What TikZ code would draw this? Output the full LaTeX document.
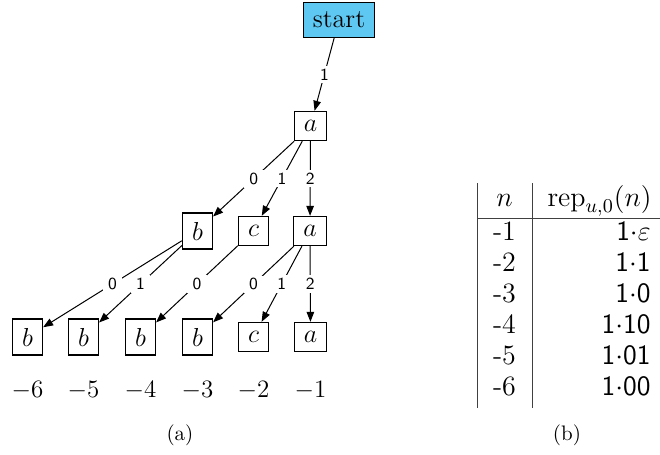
\RequirePackage{fix-cm}
\documentclass[tikz,border=0pt]{standalone}
\usetikzlibrary{arrows.meta}
\definecolor{startblue}{RGB}{95,200,242}
\begin{document}
\begin{tikzpicture}[x=0.5pt,y=-0.5pt,
  box/.style={draw, line width=0.6pt, inner xsep=4.8pt, inner ysep=4.5pt, font=\fontsize{13}{15}\selectfont},
  arr/.style={line width=0.5pt, -{Triangle[length=5pt,width=3.8pt]}},
  lbl/.style={fill=white, inner xsep=2.8pt, inner ysep=1.4pt, font=\sffamily\fontsize{8.5}{10}\selectfont},
  lev/.style={anchor=base, inner sep=0pt, font=\fontsize{12.5}{15}\selectfont},
  tabc/.style={anchor=base, inner sep=0pt, font=\fontsize{14}{17}\selectfont},
  tabr/.style={anchor=base east, inner sep=0pt, font=\fontsize{14}{17}\selectfont},
  tline/.style={line width=0.5pt, black!75},
  captext/.style={anchor=base, inner sep=0pt, font=\fontsize{10.5}{13}\selectfont}]
\useasboundingbox (0,0) rectangle (660,455);
% tree nodes
\node[box, fill=startblue] (s) at (339,20) {start};
\node[box] (a1) at (310.5,126) {$a$};
\node[box] (b2) at (197.5,231) {$b$};
\node[box] (c2) at (253.5,231) {$c$};
\node[box] (a2) at (310,231) {$a$};
\node[box] (b31) at (27.5,337) {$b$};
\node[box] (b32) at (83.5,337) {$b$};
\node[box] (b33) at (140.5,337) {$b$};
\node[box] (b34) at (197.5,337) {$b$};
\node[box] (c3) at (253.5,337) {$c$};
\node[box] (a3) at (310.5,337) {$a$};
% edges
\draw[arr] (s) -- node[lbl]{1} (a1);
\draw[arr] (a1) -- node[lbl]{0} (b2);
\draw[arr] (a1) -- node[lbl]{1} (c2);
\draw[arr] (a1) -- node[lbl]{2} (a2);
\draw[arr] (b2) -- node[lbl]{0} (b31);
\draw[arr] (b2) -- node[lbl]{1} (b32);
\draw[arr] (c2) -- node[lbl]{0} (b33);
\draw[arr] (a2) -- node[lbl]{0} (b34);
\draw[arr] (a2) -- node[lbl]{1} (c3);
\draw[arr] (a2) -- node[lbl]{2} (a3);
% level labels
\node[lev] (l6) at (27.5,397) {$-6$};
\node[lev] (l5) at (83.5,397) {$-5$};
\node[lev] (l4) at (140.5,397) {$-4$};
\node[lev] (l3) at (197.5,397) {$-3$};
\node[lev] (l2) at (253.5,397) {$-2$};
\node[lev] (l1) at (310.5,397) {$-1$};
% table
\draw[tline] (477,183) -- (477,408);
\draw[tline] (532,183) -- (532,408);
\draw[tline] (477,218) -- (660,218);
\node[tabc] (hn) at (504.5,206) {$n$};
\node[tabr] (hr) at (652,206) {$\mathrm{rep}_{u,0}(n)$};
\node[tabc] (n1) at (504.5,240) {-1};
\node[tabc] (n2) at (504.5,271) {-2};
\node[tabc] (n3) at (504.5,302) {-3};
\node[tabc] (n4) at (504.5,333) {-4};
\node[tabc] (n5) at (504.5,364) {-5};
\node[tabc] (n6) at (504.5,395) {-6};
\node[tabr] (r1) at (651,240) {$\mathsf{1}{\cdot}\varepsilon$};
\node[tabr] (r2) at (651,271) {$\mathsf{1}{\cdot}\mathsf{1}$};
\node[tabr] (r3) at (651,302) {$\mathsf{1}{\cdot}\mathsf{0}$};
\node[tabr] (r4) at (651,333) {$\mathsf{1}{\cdot}\mathsf{10}$};
\node[tabr] (r5) at (651,364) {$\mathsf{1}{\cdot}\mathsf{01}$};
\node[tabr] (r6) at (651,395) {$\mathsf{1}{\cdot}\mathsf{00}$};
% captions
\node[captext] (capa) at (180,440) {(a)};
\node[captext] (capb) at (567,440) {(b)};
\end{tikzpicture}
\end{document}
